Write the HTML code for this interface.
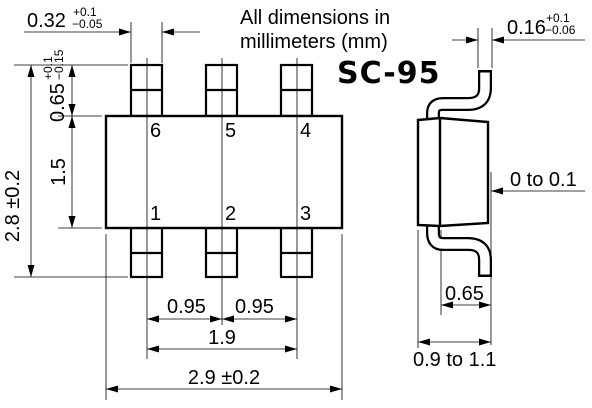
<!DOCTYPE html>
<html><head><meta charset="utf-8"><style>
html,body{margin:0;padding:0;background:#fff}
svg{display:block}
text{font-family:"Liberation Sans",Arial,sans-serif;fill:#000}
</style></head><body>
<svg width="592" height="408" viewBox="0 0 592 408" xmlns="http://www.w3.org/2000/svg">
<defs>
<marker id="ar" markerWidth="12" markerHeight="8" refX="12" refY="4" orient="auto" markerUnits="userSpaceOnUse"><path d="M0,0.5 L12,4 L0,7.5 Z" fill="#000"/></marker>
<marker id="al" markerWidth="12" markerHeight="8" refX="0" refY="4" orient="auto" markerUnits="userSpaceOnUse"><path d="M12,0.5 L0,4 L12,7.5 Z" fill="#000"/></marker>
</defs>

<text x="240" y="24" font-size="20">All dimensions in</text>
<text x="240" y="48" font-size="20">millimeters (mm)</text>
<text x="337" y="83" font-size="30" font-weight="bold" letter-spacing="1" style="font-family:'DejaVu Sans',sans-serif">SC-95</text>

<g stroke="#000" stroke-width="0.8">
<line x1="147" y1="58" x2="147" y2="359"/>
<line x1="222" y1="58" x2="222" y2="325"/>
<line x1="297" y1="58" x2="297" y2="359"/>
</g>

<g fill="none" stroke="#000" stroke-width="2.2">
<rect x="131" y="65" width="31" height="51"/><line x1="131" y1="90" x2="162" y2="90"/>
<rect x="206" y="65" width="31" height="51"/><line x1="206" y1="90" x2="237" y2="90"/>
<rect x="281" y="65" width="31" height="51"/><line x1="281" y1="90" x2="312" y2="90"/>
<rect x="131" y="228" width="31" height="49"/><line x1="131" y1="253" x2="162" y2="253"/>
<rect x="206" y="228" width="31" height="49"/><line x1="206" y1="253" x2="237" y2="253"/>
<rect x="281" y="228" width="31" height="49"/><line x1="281" y1="253" x2="312" y2="253"/>
</g>
<rect x="106" y="116" width="236" height="112" fill="#fff" stroke="#000" stroke-width="2.4"/>
<g stroke="#000" stroke-width="0.8"><line x1="147" y1="116" x2="147" y2="228"/><line x1="222" y1="116" x2="222" y2="228"/><line x1="297" y1="116" x2="297" y2="228"/></g>
<g font-size="20">
<text x="150" y="137">6</text><text x="225" y="137">5</text><text x="300" y="137">4</text>
<text x="150" y="220">1</text><text x="225" y="220">2</text><text x="300" y="220">3</text>
</g>

<g stroke="#000" stroke-width="0.8" fill="none">
<line x1="131" y1="22" x2="131" y2="63"/><line x1="162" y1="22" x2="162" y2="63"/>
<line x1="24" y1="32" x2="131" y2="32" marker-end="url(#ar)"/>
<line x1="200" y1="32" x2="162" y2="32" marker-end="url(#ar)"/>
<line x1="14" y1="65" x2="128" y2="65"/><line x1="58" y1="116" x2="102" y2="116"/>
<line x1="58" y1="228" x2="102" y2="228"/><line x1="14" y1="277" x2="128" y2="277"/>
<line x1="31" y1="65" x2="31" y2="277" marker-start="url(#al)" marker-end="url(#ar)"/>
<line x1="72" y1="65" x2="72" y2="116" marker-start="url(#al)" marker-end="url(#ar)"/>
<line x1="72" y1="116" x2="72" y2="228" marker-start="url(#al)" marker-end="url(#ar)"/>
<line x1="106" y1="234" x2="106" y2="400"/><line x1="342" y1="234" x2="342" y2="400"/>
<line x1="147" y1="319" x2="222" y2="319" marker-start="url(#al)" marker-end="url(#ar)"/>
<line x1="222" y1="319" x2="297" y2="319" marker-start="url(#al)" marker-end="url(#ar)"/>
<line x1="147" y1="349" x2="297" y2="349" marker-start="url(#al)" marker-end="url(#ar)"/>
<line x1="106" y1="389" x2="342" y2="389" marker-start="url(#al)" marker-end="url(#ar)"/>
<line x1="478" y1="28" x2="478" y2="68"/><line x1="492" y1="28" x2="492" y2="68"/>
<line x1="452" y1="40" x2="478" y2="40" marker-end="url(#ar)"/>
<line x1="585" y1="40" x2="492" y2="40" marker-end="url(#ar)"/>
<line x1="491" y1="172" x2="491" y2="345"/>
<line x1="465" y1="191" x2="488" y2="191" marker-end="url(#ar)"/>
<line x1="585" y1="191" x2="491" y2="191" marker-end="url(#ar)"/>
<line x1="441" y1="230" x2="441" y2="315"/><line x1="418" y1="230" x2="418" y2="348"/>
<line x1="441" y1="305" x2="491" y2="305" marker-start="url(#al)" marker-end="url(#ar)"/>
<line x1="418" y1="342" x2="491" y2="342" marker-start="url(#al)" marker-end="url(#ar)"/>
</g>

<text x="27" y="27" font-size="20">0.32</text>
<text x="73" y="16" font-size="12">+0.1</text><text x="72" y="28" font-size="12">−0.05</text>
<text transform="translate(19,206) rotate(-90)" text-anchor="middle" font-size="20">2.8 ±0.2</text>
<text transform="translate(64,122) rotate(-90)" font-size="20">0.65</text>
<text transform="translate(52,80) rotate(-90)" font-size="12">+0.1</text>
<text transform="translate(63,80) rotate(-90)" font-size="12">−0.15</text>
<text transform="translate(65,172) rotate(-90)" text-anchor="middle" font-size="20">1.5</text>
<text x="167" y="313" font-size="20">0.95</text>
<text x="235" y="313" font-size="20">0.95</text>
<text x="222" y="344" text-anchor="middle" font-size="20">1.9</text>
<text x="224" y="384" text-anchor="middle" font-size="20">2.9 ±0.2</text>
<text x="507" y="34" font-size="20">0.16</text>
<text x="546" y="22" font-size="12">+0.1</text><text x="545" y="34" font-size="12">−0.06</text>
<text x="510" y="186" font-size="20">0 to 0.1</text>
<text x="445" y="300" font-size="20">0.65</text>
<text x="413" y="366" font-size="20">0.9 to 1.1</text>

<g>
<path d="M433,124 V113 Q433,104 443,104 H468 Q485,104 485,88 V70" fill="none" stroke="#000" stroke-width="14"/>
<path d="M433,124 V113 Q433,104 443,104 H468 Q485,104 485,88 V72.5" fill="none" stroke="#fff" stroke-width="9.5"/>
<path d="M433,222 V233 Q433,244 443,244 H468 Q485,244 485,260 V277" fill="none" stroke="#000" stroke-width="14"/>
<path d="M433,222 V233 Q433,244 443,244 H468 Q485,244 485,260 V274.5" fill="none" stroke="#fff" stroke-width="9.5"/>
<path d="M418,120 L440,118 L488,122 L488,223 L440,226 L418,225 Z" fill="#fff" stroke="#000" stroke-width="2.4"/>
<line x1="440" y1="118" x2="440" y2="226" stroke="#000" stroke-width="2.4"/>
</g>
</svg>
</body></html>
